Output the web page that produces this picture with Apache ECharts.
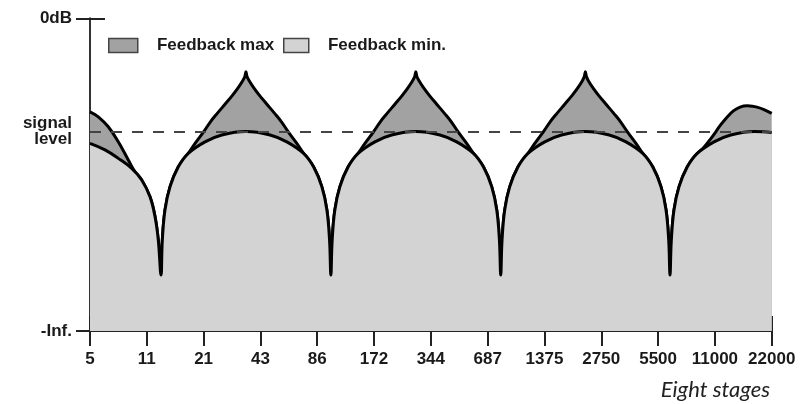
<!DOCTYPE html>
<html>
<head>
<meta charset="utf-8">
<script src="https://cdn.jsdelivr.net/npm/echarts@6/dist/echarts.min.js"></script>
<style>html,body{margin:0;padding:0;background:#fff}#c{width:805px;height:404px}</style>
</head>
<body>
<div id="c"></div>
<script>
// ---- data ----
const freqLabels = ['5','11','21','43','86','172','344','687','1375','2750','5500','11000','22000'];
const yTickValues = [0, 63.8, 100];
const yTickLabels = ['-Inf.', 'signal\nlevel', '0dB'];
const signalLevel = 63.8;

const minCurveX = [0,0.264,0.498,0.734,0.91,1.056,1.144,1.202,1.25,
  1.273,1.32,1.408,1.555,1.73,2.025,2.32,2.745,3.17,3.465,3.76,3.935,4.082,4.17,4.217,4.24,
  4.263,4.31,4.398,4.545,4.72,5.015,5.31,5.735,6.16,6.455,6.75,6.925,7.072,7.16,7.207,7.23,
  7.253,7.30,7.388,7.535,7.71,8.005,8.30,8.72,9.14,9.435,9.73,9.905,10.052,10.14,10.187,10.21,
  10.233,10.28,10.368,10.515,10.69,10.985,11.28,11.70,12.0];
const minCurveY = [60.0,57.9,55.2,52.0,48.3,42.9,36.6,29.1,17.9,
  29,38.7,46.1,52.5,56.8,60.5,62.7,63.8,62.7,60.5,56.8,52.5,46.1,38.7,29,17.9,
  29,38.7,46.1,52.5,56.8,60.5,62.7,63.8,62.7,60.5,56.8,52.5,46.1,38.7,29,17.9,
  29,38.7,46.1,52.5,56.8,60.5,62.7,63.8,62.7,60.5,56.8,52.5,46.1,38.7,29,17.9,
  29,38.7,46.1,52.5,56.8,60.5,62.7,63.8,63.5];

const maxCurveX = [0,0.146,0.322,0.498,0.674,0.792,0.91,1.056,1.144,1.202,1.25,
  1.273,1.32,1.408,1.555,1.73,1.85,2.0,2.12,2.24,2.38,2.50,2.60,2.68,2.725,2.745,2.765,2.81,2.89,2.99,3.11,3.25,3.37,3.49,3.64,3.76,3.935,4.082,4.17,4.217,4.24,
  4.263,4.31,4.398,4.545,4.72,4.84,4.99,5.11,5.23,5.37,5.49,5.59,5.67,5.715,5.735,5.755,5.80,5.88,5.98,6.10,6.24,6.36,6.48,6.63,6.75,6.925,7.072,7.16,7.207,7.23,
  7.253,7.30,7.388,7.535,7.71,7.83,7.98,8.10,8.22,8.36,8.48,8.58,8.66,8.70,8.72,8.74,8.78,8.86,8.96,9.08,9.22,9.34,9.46,9.61,9.73,9.905,10.052,10.14,10.187,10.21,
  10.233,10.28,10.368,10.515,10.69,10.80,10.915,11.0,11.1,11.21,11.326,11.444,11.572,11.66,11.74,11.854,12.0];
const maxCurveY = [70.1,68.5,65.3,60.5,54.7,50.9,48.3,42.9,36.6,29.1,17.9,
  29,38.7,46.1,52.5,56.8,60.0,63.7,66.9,69.6,72.6,75.2,77.6,79.8,81.3,82.9,81.3,79.8,77.6,75.2,72.6,69.6,66.9,63.7,60.0,56.8,52.5,46.1,38.7,29,17.9,
  29,38.7,46.1,52.5,56.8,60.0,63.7,66.9,69.6,72.6,75.2,77.6,79.8,81.3,82.9,81.3,79.8,77.6,75.2,72.6,69.6,66.9,63.7,60.0,56.8,52.5,46.1,38.7,29,17.9,
  29,38.7,46.1,52.5,56.8,60.0,63.7,66.9,69.6,72.6,75.2,77.6,79.8,81.3,82.9,81.3,79.8,77.6,75.2,72.6,69.6,66.9,63.7,60.0,56.8,52.5,46.1,38.7,29,17.9,
  29,38.7,46.1,52.5,56.8,58.6,61.2,63.3,65.9,68.3,70.4,71.6,72.0,71.9,71.6,70.9,69.6];

const seriesNames = ['Feedback max', 'Feedback min.'];
const xTitle = 'Eight stages';

// ---- chart ----
const pairs = (xs, ys) => xs.map((x, i) => [x, ys[i]]);
const FONT = '"Liberation Sans", Arial, sans-serif';
const chart = echarts.init(document.getElementById('c'), null, {renderer: 'canvas'});

const baseX = {
  type: 'value', min: 0, max: freqLabels.length - 1, interval: 1,
  splitLine: {show: false}
};
const baseY = {type: 'value', min: 0, max: 100, splitLine: {show: false}};

chart.setOption({
  animation: false,
  backgroundColor: '#ffffff',
  grid: {left: 90, right: 33.3, top: 18.3, bottom: 73, containLabel: false},
  title: {
    text: xTitle, right: 35, top: 379, padding: 0,
    textStyle: {fontFamily: 'Lato', fontStyle: 'italic', fontWeight: 'normal', fontSize: 22, color: '#222'}
  },
  legend: [
    {
      data: [{name: seriesNames[0], icon: 'rect', itemStyle: {color: '#a2a2a2', borderColor: '#444', borderWidth: 1.5}}],
      left: 103, top: 32, itemWidth: 29, itemHeight: 14, selectedMode: false,
      formatter: n => '   ' + n,
      textStyle: {fontFamily: FONT, fontWeight: 'bold', fontSize: 17, color: '#1a1a1a'}
    },
    {
      data: [{name: seriesNames[1], icon: 'rect', itemStyle: {color: '#d3d3d3', borderColor: '#444', borderWidth: 1.5}}],
      left: 278, top: 32, itemWidth: 25, itemHeight: 14, selectedMode: false,
      formatter: n => '   ' + n,
      textStyle: {fontFamily: FONT, fontWeight: 'bold', fontSize: 17, color: '#1a1a1a'}
    }
  ],
  xAxis: [
    Object.assign({}, baseX, {
      position: 'bottom',
      axisLine: {show: true, lineStyle: {color: '#222', width: 2}},
      axisTick: {show: true, inside: false, length: 15, lineStyle: {color: '#222', width: 2}},
      axisLabel: {
        show: true, margin: 20, color: '#1a1a1a',
        fontFamily: FONT, fontWeight: 'bold', fontSize: 17,
        formatter: v => freqLabels[Math.round(v)]
      }
    }),
    Object.assign({}, baseX, {
      position: 'bottom',
      axisLine: {show: false},
      axisTick: {show: true, inside: true, length: 15, lineStyle: {color: '#222', width: 2}},
      axisLabel: {show: false}
    })
  ],
  yAxis: [
    Object.assign({}, baseY, {
      position: 'left',
      axisLine: {show: true, lineStyle: {color: '#333', width: 2}},
      axisTick: {show: true, inside: false, length: 14, customValues: [0, 100], lineStyle: {color: '#222', width: 2}},
      axisLabel: {
        show: true, margin: 18, customValues: yTickValues, color: '#1a1a1a',
        fontFamily: FONT, fontWeight: 'bold', fontSize: 17, lineHeight: 16,
        formatter: v => yTickLabels[yTickValues.indexOf(v)]
      }
    }),
    Object.assign({}, baseY, {
      position: 'left', offset: 0,
      axisLine: {show: false},
      axisTick: {show: true, inside: true, length: 15, customValues: [100], lineStyle: {color: '#222', width: 2}},
      axisLabel: {show: false}
    })
  ],
  series: [
    {
      name: seriesNames[0], type: 'line', xAxisIndex: 0, yAxisIndex: 0,
      data: pairs(maxCurveX, maxCurveY),
      showSymbol: false, smooth: 0.4,
      lineStyle: {color: '#000', width: 3},
      itemStyle: {color: '#a2a2a2'},
      areaStyle: {color: '#a2a2a2', opacity: 1},
      z: 2
    },
    {
      name: seriesNames[1], type: 'line', xAxisIndex: 0, yAxisIndex: 0,
      data: pairs(minCurveX, minCurveY),
      showSymbol: false, smooth: 0.4,
      lineStyle: {color: '#000', width: 3},
      itemStyle: {color: '#d3d3d3'},
      areaStyle: {color: '#d3d3d3', opacity: 1},
      z: 3,
      markLine: {
        silent: true, symbol: 'none', animation: false,
        label: {show: false},
        lineStyle: {color: '#444', width: 2, type: [11, 10]},
        data: [{yAxis: signalLevel}],
        z: 5
      }
    }
  ]
});
</script>
</body>
</html>
